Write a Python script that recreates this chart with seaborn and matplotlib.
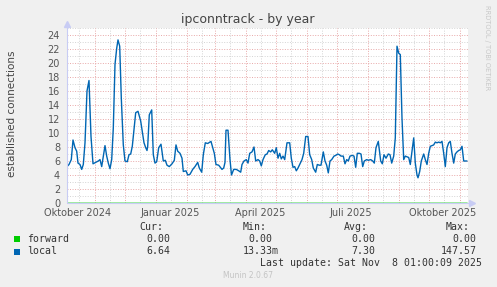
import numpy as np
import pandas as pd
import matplotlib
matplotlib.use("Agg")
import matplotlib.pyplot as plt
import seaborn as sns
from matplotlib.patches import Rectangle
from matplotlib.lines import Line2D

# ---------------- data ----------------
title = "ipconntrack - by year"
ylabel = "established connections"
start = pd.Timestamp("2024-10-04 01:00")
span_days = 401

local_days = [0, 2, 4.3, 6, 8, 9.7, 11, 13, 14.7, 16.3, 18, 20, 22, 24, 26, 28.7, 31.3, 33,
              34.7, 36.3, 38, 39.7, 41.3, 43, 44.7, 46.3, 48, 49.7, 51, 52.7, 54.3, 56.3, 58,
              60.3, 62, 63.7, 65.3, 68.7, 71, 73.7, 75.3, 77, 78.7, 80, 80.7, 82.3, 84.7, 86.3,
              88, 89.7, 91.7, 94, 96.3, 98.3, 100, 102.3, 105, 107.3, 109, 110.7, 113, 115,
              116.3, 119, 120.7, 123, 125.7, 128, 130.7, 132.3, 134.7, 136.3, 138.3, 140.7, 144,
              145.7, 147.3, 149, 151.7, 155, 156.7, 158, 159, 161, 163, 164.5, 166.7, 169.3,
              171.7, 173.7, 175, 177, 179.3, 181, 182.7, 185, 187, 188.7, 191, 192.7, 194.3,
              196, 198.3, 200, 201.7, 203.7, 205.3, 207.7, 209.3, 211, 212.7, 214.3, 216, 217.7,
              220, 222.7, 224.3, 226, 227.7, 229.3, 231, 233.3, 235, 236.7, 238.7, 241, 242.7,
              244.7, 246.3, 248.7, 250.3, 252.3, 254, 256.3, 258, 259.7, 261.3, 263, 264.7, 267,
              268.7, 270.7, 272.3, 274, 276.3, 278, 279.7, 281.3, 283, 285.3, 287, 288.7, 290.3,
              292.3, 294, 295.7, 297.3, 299.7, 301.3, 303.7, 305.7, 307.3, 309, 311.3, 313.7,
              315.3, 317, 319, 321.3, 323, 324.7, 326.7, 328.3, 330, 331.7, 333.3, 335, 336.7,
              338.3, 340, 341.7, 343.3, 345, 346.7, 348.3, 350, 351, 352.7, 354.3, 356.7, 358.3,
              360, 361.7, 363.3, 365, 366.7, 368.3, 370, 371.7, 373.3, 375, 376.7, 378.3, 380,
              381.7, 383.3, 385, 386.7, 388.3, 390, 391.7, 393.3, 395, 396.7, 398.3, 400]
local_values = [5.2, 5.5, 6.2, 9.0, 7.9, 7.4, 5.7, 5.5, 4.8, 5.5, 8.6, 16.0, 17.5, 9.5, 5.6, 5.8,
                6.0, 6.2, 5.2, 6.7, 8.2, 6.7, 5.7, 4.9, 6.2, 10.7, 19.8, 22.1, 23.3, 22.4, 15.0,
                8.3, 6.0, 5.9, 6.9, 7.0, 8.1, 12.9, 13.1, 11.7, 10.2, 8.6, 7.9, 7.5, 8.1, 12.6,
                13.3, 6.9, 5.7, 5.9, 7.9, 8.4, 6.0, 6.1, 5.4, 5.2, 5.6, 6.1, 8.3, 7.4, 7.1, 6.4,
                4.5, 4.6, 4.0, 4.1, 4.8, 5.2, 5.8, 5.0, 4.4, 6.9, 8.6, 8.5, 8.8, 7.9, 7.1, 5.5,
                5.4, 4.8, 5.0, 5.8, 10.4, 10.4, 6.2, 4.0, 4.8, 4.8, 4.6, 4.4, 5.5, 6.0, 6.2, 5.7,
                7.1, 7.3, 8.0, 6.0, 6.2, 6.0, 5.3, 6.2, 6.9, 7.0, 7.5, 7.3, 7.6, 7.1, 7.9, 6.4,
                7.1, 6.3, 6.7, 6.2, 8.6, 8.6, 6.4, 5.1, 5.2, 4.6, 5.0, 5.7, 6.2, 7.1, 9.5, 9.5,
                6.9, 6.2, 5.0, 4.4, 5.5, 5.4, 5.4, 7.3, 6.0, 5.4, 4.3, 6.0, 6.2, 6.7, 6.8, 7.0,
                6.9, 6.7, 6.7, 5.6, 6.2, 6.0, 6.7, 6.8, 6.7, 5.1, 7.1, 7.1, 7.0, 5.2, 6.0, 6.2,
                6.1, 6.2, 6.0, 5.7, 7.9, 8.8, 6.0, 5.6, 6.9, 6.4, 7.0, 6.9, 5.7, 6.7, 9.3, 22.4,
                21.4, 21.2, 12.1, 6.2, 6.7, 6.6, 6.5, 5.5, 7.4, 9.3, 5.7, 4.0, 3.6, 4.5, 6.0, 7.0,
                6.2, 5.5, 7.1, 8.1, 8.2, 8.3, 8.7, 8.6, 8.7, 8.6, 8.8, 7.1, 5.2, 7.9, 8.6, 8.8,
                7.1, 5.7, 7.0, 7.3, 7.5, 7.6, 8.1, 6.0, 6.0, 6.0]
forward_days = [0, 400]
forward_values = [0.0, 0.0]

tick_labels = ["Oktober 2024", "Januar 2025", "April 2025", "Juli 2025", "Oktober 2025"]
tick_dates = ["2024-10-15", "2025-01-15", "2025-04-15", "2025-07-15", "2025-10-15"]
y_ticks = list(range(0, 25, 2))

legend_names = ["forward", "local"]
legend_colors = ["#00CC00", "#0066B3"]
col_headers = ["Cur:", "Min:", "Avg:", "Max:"]
cur_vals = ["0.00", "6.64"]
min_vals = ["0.00", "13.33m"]
avg_vals = ["0.00", "7.30"]
max_vals = ["0.00", "147.57"]
last_update = "Last update: Sat Nov  8 01:00:09 2025"
version = "Munin 2.0.67"
watermark = "RRDTOOL / TOBI OETIKER"

# ---------------- figure ----------------
sns.set_theme(style="white")
plt.rcParams["font.family"] = ["DejaVu Sans"]

W, H = 497, 287
fig = plt.figure(figsize=(W / 100, H / 100), dpi=100, facecolor="#F0F0F0")
ax = fig.add_axes([67 / W, 84 / H, 401 / W, 175 / H])
ax.set_facecolor("white")

def fx(px):
    return px / W

def fy(py):
    return 1 - py / H

local_df = pd.DataFrame({"date": start + pd.to_timedelta(local_days, unit="D"),
                         "value": local_values})
fwd_df = pd.DataFrame({"date": start + pd.to_timedelta(forward_days, unit="D"),
                       "value": forward_values})

x0 = start
x1 = start + pd.Timedelta(days=span_days)
ax.set_xlim(x0, x1)
ax.set_ylim(0, 25)

# grid
grid_red = "#e8a8a8"
grid_gray = "#d4d4d4"
for v in range(1, 26):
    ax.axhline(v, color=grid_red if v % 2 == 0 else grid_gray, lw=0.7,
               ls=(0, (1, 1.6)), zorder=1)
month_starts = pd.date_range("2024-11-01", "2025-11-01", freq="MS")
for d in month_starts:
    ax.axvline(d, color=grid_red, lw=0.7, ls=(0, (1, 1.6)), zorder=1)
for d in pd.date_range("2024-10-01", "2025-11-01", freq="MS") + pd.Timedelta(days=15):
    if x0 < d < x1:
        ax.axvline(d, color=grid_gray, lw=0.7, ls=(0, (1, 1.6)), zorder=1)

sns.lineplot(data=fwd_df, x="date", y="value", ax=ax, color="#00CC00", alpha=0.45,
             lw=1.2, estimator=None, sort=False, zorder=3)
sns.lineplot(data=local_df, x="date", y="value", ax=ax, color="#0066B3",
             lw=1.0, estimator=None, sort=False, zorder=4)

for s in ax.spines.values():
    s.set_visible(False)

ax.set_xticks(pd.to_datetime(tick_dates))
ax.set_xticklabels(tick_labels)
ax.set_xticks(month_starts, minor=True)
ax.set_yticks(y_ticks)
ax.set_yticklabels([str(t) for t in y_ticks])
ax.set_yticks(range(1, 25, 2), minor=True)
ax.tick_params(axis="x", which="major", length=0, pad=3.8, labelsize=7, labelcolor="#555555")
ax.tick_params(axis="x", which="minor", length=1.5, color=grid_red, direction="out")
ax.tick_params(axis="y", which="major", length=1.5, color=grid_red, direction="out",
               pad=3.5, labelsize=7, labelcolor="#555555")
ax.tick_params(axis="y", which="minor", length=1.5, color=grid_gray, direction="out")
ax.set_xlabel("")
ax.set_ylabel("")

# axes lines with arrows
axis_col = "#c8ccf4"
fig.add_artist(Line2D([fx(67), fx(67)], [fy(203), fy(24)], color=axis_col, lw=0.8,
                      transform=fig.transFigure, zorder=2))
fig.add_artist(Line2D([fx(67), fx(471)], [fy(203), fy(203)], color=axis_col, lw=0.8,
                      transform=fig.transFigure, zorder=2))
fig.add_artist(Line2D([fx(67)], [fy(24)], marker="^", markersize=4, color=axis_col,
                      transform=fig.transFigure, zorder=2))
fig.add_artist(Line2D([fx(472)], [fy(203)], marker=">", markersize=4, color=axis_col,
                      transform=fig.transFigure, zorder=2))

# titles
fig.text(fx(248), fy(19.3), title, ha="center", va="center", fontsize=9, color="#444444")
fig.text(fx(12), fy(114), ylabel, ha="center", va="center", rotation=90, fontsize=7.5,
         color="#444444")
fig.text(fx(487), fy(5), watermark, ha="center", va="top", rotation=270, fontsize=4.8,
         color="#c8c8c8")

# legend
mono = dict(family="DejaVu Sans Mono", fontsize=7.1, color="#333333", va="center")
header_right = [163.3, 266.7, 368.3, 470]
for h, xr in zip(col_headers, header_right):
    fig.text(fx(xr), fy(227.3), h, ha="right", **mono)

row_y = [239.3, 251.5]
val_right = [170, 272.7, 375, 476.7]
for i, name in enumerate(legend_names):
    fig.add_artist(Rectangle((fx(14), fy(row_y[i] + 3)), 6 / W, 6 / H,
                             transform=fig.transFigure, color=legend_colors[i], lw=0))
    fig.text(fx(26.7), fy(row_y[i]), name, ha="left", **mono)
    vals = [cur_vals[i], min_vals[i], avg_vals[i], max_vals[i]]
    for j, v in enumerate(vals):
        xr = val_right[j]
        if v.endswith("m"):
            xr += 6.0
        fig.text(fx(xr), fy(row_y[i]), v, ha="right", **mono)

fig.text(fx(482.3), fy(263.3), last_update, ha="right", **mono)
fig.text(fx(248), fy(276), version, ha="center", va="center", fontsize=5.5, color="#c4c4c4")

fig.savefig("out.png", dpi=100, facecolor=fig.get_facecolor())
